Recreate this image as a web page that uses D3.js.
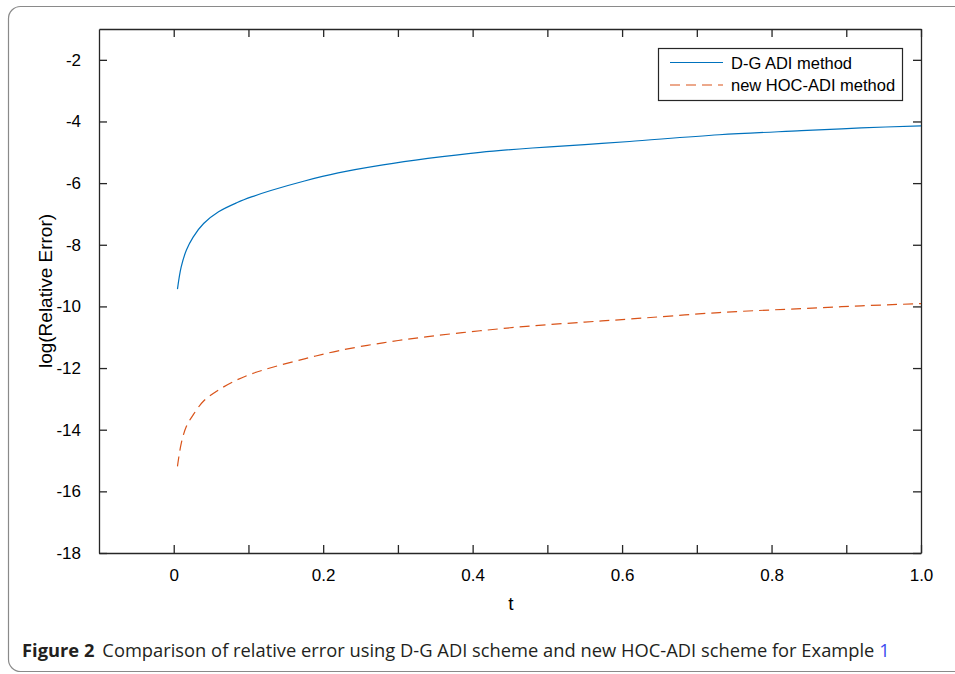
<!DOCTYPE html>
<html>
<head>
<meta charset="utf-8">
<script src="https://cdn.jsdelivr.net/npm/d3@7"></script>
<style>
  body { margin: 0; background: #fff; }
  svg text { font-family: "Liberation Sans", Arial, sans-serif; }
</style>
</head>
<body>
<div class="chart"></div>
<script>
// values
const tValues = [0.005, 0.01, 0.017, 0.026, 0.04, 0.06, 0.085, 0.105, 0.13, 0.175, 0.22,
                 0.28, 0.34, 0.41, 0.48, 0.55, 0.61, 0.73, 0.84, 0.92, 1.0]
const dgAdi = [-9.44, -8.72, -8.17, -7.75, -7.31, -6.93, -6.63, -6.44, -6.24, -5.93, -5.67,
               -5.41, -5.20, -5.00, -4.86, -4.75, -4.65, -4.43, -4.30, -4.21, -4.14]
const hocAdi = [-15.19, -14.45, -13.89, -13.52, -13.07, -12.71, -12.38, -12.18, -11.99, -11.70, -11.44,
                -11.18, -10.98, -10.79, -10.63, -10.51, -10.41, -10.20, -10.07, -9.98, -9.91]
const seriesNames = ["D-G ADI method", "new HOC-ADI method"]
const xTicks = [0, 0.1, 0.2, 0.3, 0.4, 0.5, 0.6, 0.7, 0.8, 0.9, 1.0]
const xTickLabels = ["0", "", "0.2", "", "0.4", "", "0.6", "", "0.8", "", "1.0"]
const yTicks = [-18, -16, -14, -12, -10, -8, -6, -4, -2]

const W = 955, H = 674
const box = { left: 99, right: 921, top: 29, bottom: 553 }

const svg = d3.select(".chart").append("svg")
    .attr("width", W)
    .attr("height", H)

// outer rounded frame
svg.append("rect")
    .attr("x", 8.5).attr("y", 6.5)
    .attr("width", 1000).attr("height", 665)
    .attr("rx", 12)
    .attr("fill", "none")
    .attr("stroke", "#8a8a8a")
    .attr("stroke-width", 1.2)

const x = d3.scaleLinear().domain([-0.1, 1.0]).range([box.left, box.right])
const y = d3.scaleLinear().domain([-18, -1]).range([box.bottom, box.top])

const axisColor = "#262626"
const tickLen = 8

// bottom axis
svg.append("g")
    .attr("transform", `translate(0,${box.bottom})`)
    .call(d3.axisBottom(x).tickValues(xTicks).tickSizeInner(-tickLen).tickSizeOuter(0)
        .tickPadding(16).tickFormat((d, i) => xTickLabels[i]))
// top axis (ticks only)
svg.append("g")
    .attr("transform", `translate(0,${box.top})`)
    .call(d3.axisTop(x).tickValues(xTicks).tickSizeInner(-tickLen).tickSizeOuter(0).tickFormat(""))
// left axis
svg.append("g")
    .attr("transform", `translate(${box.left},0)`)
    .call(d3.axisLeft(y).tickValues(yTicks).tickSizeInner(-tickLen).tickSizeOuter(0)
        .tickPadding(18).tickFormat(d => String(d)))
// right axis (ticks only)
svg.append("g")
    .attr("transform", `translate(${box.right},0)`)
    .call(d3.axisRight(y).tickValues(yTicks).tickSizeInner(-tickLen).tickSizeOuter(0).tickFormat(""))

svg.selectAll(".domain").attr("stroke", axisColor).attr("stroke-width", 1.3)
svg.selectAll(".tick line").attr("stroke", axisColor).attr("stroke-width", 1.3)
svg.selectAll(".tick text")
    .attr("fill", "#000")
    .attr("font-size", 17)
    .attr("font-family", "Liberation Sans, Arial, sans-serif")

// axis titles
svg.append("text")
    .attr("x", (box.left + box.right) / 2 + 1)
    .attr("y", 610)
    .attr("text-anchor", "middle")
    .attr("font-size", 19)
    .text("t")

svg.append("text")
    .attr("transform", `translate(52,${(box.top + box.bottom) / 2}) rotate(-90)`)
    .attr("text-anchor", "middle")
    .attr("font-size", 19)
    .text("log(Relative Error)")

// lines
const line = d3.line()
    .x(d => x(d[0]))
    .y(d => y(d[1]))
    .curve(d3.curveCatmullRom.alpha(0.5))

const colors = ["#0072BD", "#D95319"]
const dashes = [null, "10,6"]
const allSeries = [dgAdi, hocAdi]

allSeries.forEach((vals, i) => {
    svg.append("path")
        .datum(tValues.map((t, j) => [t, vals[j]]))
        .attr("fill", "none")
        .attr("stroke", colors[i])
        .attr("stroke-width", 1.2)
        .attr("stroke-dasharray", dashes[i])
        .attr("d", line)
})

// legend
const legend = svg.append("g")
legend.append("rect")
    .attr("x", 658.5).attr("y", 48.5)
    .attr("width", 244).attr("height", 52)
    .attr("fill", "#fff")
    .attr("stroke", axisColor)
    .attr("stroke-width", 1.2)

seriesNames.forEach((name, i) => {
    const ly = 62.5 + i * 22.5
    legend.append("line")
        .attr("x1", 670).attr("x2", 723)
        .attr("y1", ly).attr("y2", ly)
        .attr("stroke", colors[i])
        .attr("stroke-width", 1.2)
        .attr("stroke-dasharray", dashes[i])
    legend.append("text")
        .attr("x", 731).attr("y", ly + 6)
        .attr("font-size", 16.5)
        .attr("fill", "#000")
        .text(name)
})

// caption
const caption = svg.append("text")
    .attr("x", 0).attr("y", 0)
    .attr("font-size", 18.5)
    .attr("fill", "#231f20")
    .style("font-family", "'Open Sans', 'Noto Sans', sans-serif")
caption.append("tspan").attr("font-weight", "bold").text("Figure 2")
caption.append("tspan").attr("dx", 8).text("Comparison of relative error using D-G ADI scheme and new HOC-ADI scheme for Example ")
caption.append("tspan").attr("fill", "#3b4cf0").text("1")
const capW = caption.node().getComputedTextLength() + 8
caption.attr("transform", `translate(22,657) scale(${868 / capW},1)`)
</script>
</body>
</html>
